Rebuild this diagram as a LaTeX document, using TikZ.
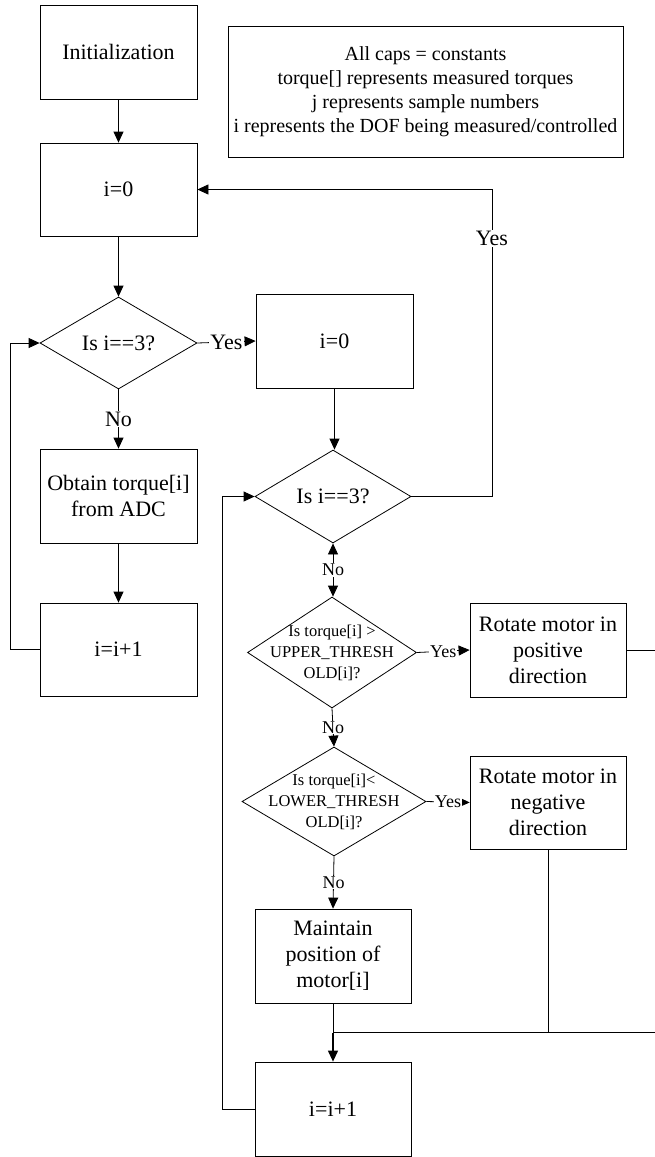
\documentclass[tikz,border=0pt]{standalone}
\usepackage{fontspec}
\setmainfont{Liberation Serif}
\usepackage{tikz}
\usetikzlibrary{arrows.meta,positioning,calc,shapes.geometric}

\begin{document}
\begin{tikzpicture}[x=1pt,y=-1pt,line width=0.8pt,
	>={Triangle[length=11pt,width=10pt]},
	box/.style={draw,rectangle,inner sep=0pt,align=center,
		minimum width=157pt,minimum height=94pt,
		font=\fontsize{22}{26}\selectfont},
	decision/.style={draw,diamond,inner sep=0pt},
	bigtext/.style={align=center,font=\fontsize{22}{26}\selectfont},
	smalltext/.style={align=center,font=\fontsize{16.5}{21}\selectfont},
	lab/.style={fill=white,inner sep=1pt,font=\fontsize{22}{24}\selectfont},
	smalllab/.style={fill=white,inner sep=1pt,font=\fontsize{18}{20}\selectfont}]
	\useasboundingbox (0,0) rectangle (654,1157);
	
	% left column
	\node[box] (init) at (118.5,52) {Initialization};
	\node[box,minimum height=93pt] (izero) at (118.5,189.5) {i=0};
	\node[decision,minimum width=157pt,minimum height=92pt,
		label={[bigtext]center:Is i==3?}] (dec1) at (118.5,343) {};
	\node[box] (obtain) at (118.5,496) {Obtain torque[i]\\from ADC};
	\node[box,minimum height=93pt] (incA) at (118.5,649.5) {i=i+1};
	
	% legend
	\node[draw,rectangle,minimum width=395pt,minimum height=131pt,
		align=center,font=\fontsize{20}{24}\selectfont] (note) at (425.5,91.5)
		{All caps = constants\\torque[] represents measured torques\\
		j represents sample numbers\\i represents the DOF being measured/controlled};
	
	% middle column
	\node[box] (izeroB) at (334.5,341) {i=0};
	\node[decision,minimum width=156pt,minimum height=93pt,
		label={[bigtext]center:Is i==3?}] (dec2) at (333,496.5) {};
	\node[decision,minimum width=169pt,minimum height=111pt,
		label={[smalltext]center:Is torque[i] >\\UPPER\_THRESH\\OLD[i]?}] (dec3) at (332,652.5) {};
	\node[decision,minimum width=184pt,minimum height=109pt,
		label={[smalltext]center:Is torque[i]<\\LOWER\_THRESH\\OLD[i]?}] (dec4) at (334,801.5) {};
	\node[box,minimum width=156pt] (keep) at (333,956) {Maintain\\position of\\motor[i]};
	\node[box,minimum width=156pt] (incB) at (333,1109) {i=i+1};
	
	% right column
	\node[box,minimum width=156pt] (rotpos) at (548,650) {Rotate motor in\\positive\\direction};
	\node[box,minimum width=156pt,minimum height=93pt] (rotneg) at (548,802.5) {Rotate motor in\\negative\\direction};
	
	% connectors
	\draw[->] (init) -- (izero);
	\draw[->] (izero) -- (dec1);
	\draw[->] (dec1.east) -- node[lab] (yesA) {Yes} (izeroB.west);
	\draw[->] (dec1.south) -- node[lab] (noA) {No} (obtain.north);
	\draw[->] (obtain) -- (incA);
	\draw[->] (incA.west) -- ++(-29.5,0) |- (dec1.west);
	
	\coordinate (rtop) at (492,189.5);
	\draw[->] (izeroB.south) -- (izeroB.south |- dec2.north);
	\draw[->] (dec2.east) -| node[lab,pos=0.92] (yesB) {Yes} (rtop) -- (izero.east);
	\draw[<->] (dec2.south) -- node[smalllab] (noB) {No} (dec2.south |- dec3.north);
	\draw[->] (dec3.east) -- node[smalllab] (yesC) {Yes} (rotpos.west);
	\draw[->] (dec3.south) -- node[smalllab] (noC) {No} (dec4.north);
	\draw[->] (dec4.east) -- node[smalllab] (yesD) {Yes} (rotneg.west);
	\draw[->] (dec4.south) -- node[smalllab] (noD) {No} (keep.north);
	
	\coordinate (merge) at ($(keep.south)!0.5!(incB.north)$);
	\draw (keep.south) -- (merge);
	\draw (rotneg.south) |- (merge);
	\draw (rotpos.east) -- ++(40,0) |- (merge);
	\draw[->,line width=1.2pt] (merge) -- (incB.north);
	\draw[->] (incB.west) -- ++(-32,0) |- (dec2.west);
\end{tikzpicture}
\end{document}
